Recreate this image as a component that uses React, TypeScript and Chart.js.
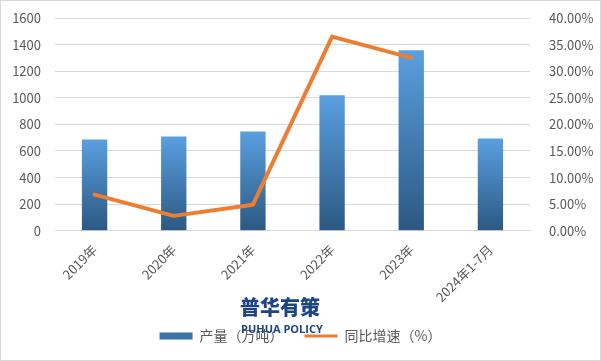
import React, { useEffect, useRef } from "react";
import { Chart, registerables } from "chart.js";

Chart.register(...registerables);

const categories = ["2019年", "2020年", "2021年", "2022年", "2023年", "2024年1-7月"];
const output = [687, 709, 747, 1019, 1358, 694];
const growth = [6.8, 2.8, 4.9, 36.5, 32.5, null];
const barLabel = "产量（万吨）";
const lineLabel = "同比增速（%）";

const FONT = "'Noto Sans CJK SC', 'DejaVu Sans', sans-serif";

export default function App() {
  const ref = useRef<HTMLCanvasElement | null>(null);

  useEffect(() => {
    const canvas = ref.current;
    if (!canvas) return;
    const chart = new Chart(canvas, {
      data: {
        labels: categories,
        datasets: [
          {
            type: "line",
            label: lineLabel,
            data: growth,
            yAxisID: "y1",
            borderColor: "#ed7d31",
            backgroundColor: "#ed7d31",
            borderWidth: 4,
            pointRadius: 0,
            tension: 0,
            borderCapStyle: "round",
            borderJoinStyle: "round",
            order: 0,
          } as any,
          {
            type: "bar",
            label: barLabel,
            data: output,
            yAxisID: "y",
            barPercentage: 0.32,
            categoryPercentage: 1,
            order: 1,
            backgroundColor: (ctx: any) => {
              const ch = ctx.chart;
              const ys = ch.scales && ch.scales.y;
              if (!ys || ctx.parsed == null || ctx.parsed.y == null) return "#3f78b5";
              const y0 = ys.getPixelForValue(0);
              const y1 = ys.getPixelForValue(ctx.parsed.y);
              const g = ch.ctx.createLinearGradient(0, y0, 0, y1);
              g.addColorStop(0, "#2c5882");
              g.addColorStop(1, "#5a9fe0");
              return g;
            },
          } as any,
        ],
      },
      options: {
        responsive: false,
        animation: false,
        layout: { padding: { left: 0, right: 0, top: 18, bottom: 8 } },
        plugins: {
          tooltip: { enabled: false },
          legend: {
            position: "bottom",
            labels: {
              usePointStyle: true,
              pointStyleWidth: 33,
              boxHeight: 7,
              padding: 21,
              color: "#595959",
              font: { family: FONT, size: 14 },
              generateLabels: () => [
                {
                  text: barLabel,
                  fillStyle: "#3b73ad",
                  strokeStyle: "#3b73ad",
                  lineWidth: 0,
                  pointStyle: "rect",
                  hidden: false,
                  datasetIndex: 1,
                  fontColor: "#595959",
                } as any,
                {
                  text: lineLabel,
                  fillStyle: "#ed7d31",
                  strokeStyle: "#ed7d31",
                  lineWidth: 3,
                  pointStyle: "line",
                  hidden: false,
                  datasetIndex: 0,
                  fontColor: "#595959",
                } as any,
              ],
            },
          },
        },
        scales: {
          x: {
            grid: { display: false },
            border: { display: true, color: "#d9d9d9" },
            ticks: {
              maxRotation: 45,
              minRotation: 45,
              padding: 3,
              color: "#595959",
              font: { family: FONT, size: 13 },
            },
          },
          y: {
            position: "left",
            min: 0,
            max: 1600,
            afterFit: (s: any) => {
              s.width = 55;
            },
            grid: {
              color: "#d9d9d9",
              drawTicks: true,
              tickLength: 11,
              tickColor: "rgba(0,0,0,0)",
            },
            border: { display: false },
            ticks: {
              stepSize: 200,
              padding: 3,
              color: "#595959",
              font: { family: FONT, size: 13 },
              callback: (v: any) => String(v),
            },
          },
          y1: {
            position: "right",
            min: 0,
            max: 40,
            afterFit: (s: any) => {
              s.width = 71;
            },
            grid: {
              drawOnChartArea: false,
              drawTicks: true,
              tickLength: 11,
              color: "rgba(0,0,0,0)",
              tickColor: "rgba(0,0,0,0)",
            },
            border: { display: false },
            ticks: {
              stepSize: 5,
              padding: 8,
              color: "#595959",
              font: { family: FONT, size: 13 },
              callback: (v: any) => Number(v).toFixed(2) + "%",
            },
          },
        },
      },
    });
    return () => chart.destroy();
  }, []);

  return (
    <div
      style={{
        position: "fixed",
        left: 0,
        top: 0,
        width: 601,
        height: 361,
        background: "#fff",
        border: "1px solid #d9d9d9",
        boxSizing: "border-box",
        overflow: "hidden",
      }}
    >
      <canvas
        ref={ref}
        width={601}
        height={361}
        style={{ position: "absolute", left: -1, top: -1, width: 601, height: 361 }}
      />
      <div
        style={{
          position: "absolute",
          left: 239,
          top: 294,
          fontFamily: "'Noto Sans CJK SC', sans-serif",
          fontWeight: 900,
          fontSize: 20,
          color: "#1d4585",
          letterSpacing: 0,
          lineHeight: "24px",
          pointerEvents: "none",
        }}
      >
        普华有策
      </div>
      <div
        style={{
          position: "absolute",
          left: 240,
          top: 321,
          fontFamily: "'Open Sans', 'DejaVu Sans', sans-serif",
          fontWeight: 700,
          fontSize: 11,
          color: "#1d4585",
          lineHeight: "14px",
          pointerEvents: "none",
        }}
      >
        PUHUA POLICY
      </div>
    </div>
  );
}
